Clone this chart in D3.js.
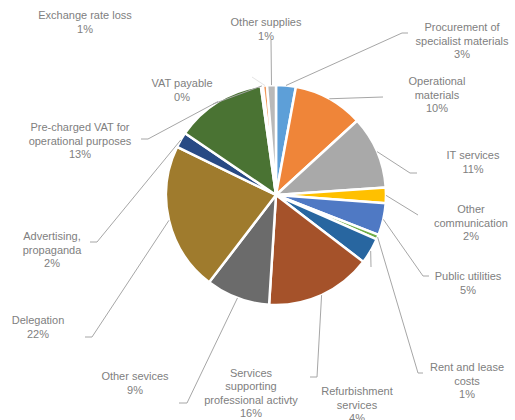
<!DOCTYPE html>
<html>
<head>
<meta charset="utf-8">
<script src="https://cdn.jsdelivr.net/npm/d3@7"></script>
<style>
	body { margin: 0; background: #fff; }
	text { font-family: "Liberation Sans", Arial, sans-serif; font-size: 11px; fill: #808080; }
</style>
</head>
<body>
<script>

// Cost categories, clockwise from 12 o'clock
var categories = [
	"Procurement of\nspecialist materials",
	"Operational\nmaterials",
	"IT services",
	"Other\ncommunication",
	"Public utilities",
	"Rent and lease\ncosts",
	"Refurbishment\nservices",
	"Services\nsupporting\nprofessional activty",
	"Other sevices",
	"Delegation",
	"Advertising,\npropaganda",
	"Pre-charged VAT  for\noperational purposes",
	"VAT payable",
	"Exchange rate loss",
	"Other supplies"
]

// Share of total (percent)
var values = [2.9, 10.3, 10.7, 2.3, 4.7, 0.7, 3.8, 15.6, 9.4, 21.8, 2.3, 13.3, 0.3, 0.6, 1.3]

// Office theme slice colours (as they appear in the picture)
var colors = ["#5d9fd8", "#ef8539", "#a9a9a9", "#ffc000", "#4f79c4", "#70ad47", "#2866a0",
	"#a5522a", "#6b6b6b", "#9f7b2d", "#284a84", "#4a7333", "#c5dcf0", "#f1975a", "#b9b9b9"]

// Label placement (centre of text block) and leader line bends
var labelPos = [
	[462, 41], [437, 95], [473, 162], [471, 223], [468, 283], [467, 381], [357, 405],
	[251, 393], [135, 383], [38, 327], [52, 250], [80, 141], [182, 90], [85, 22], [266, 29]
]
var leaderPts = [
	[[402, 33], [408, 33]],
	[[383, 97]],
	[[410, 173], [417, 173]],
	[[418, 215]],
	[[423, 276], [429, 276]],
	[[418, 373], [423, 373]],
	[[371, 267]],
	[[317, 377], [310, 377]],
	[[187, 403], [179, 403]],
	[[92, 337], [85, 337]],
	[[97, 242], [90, 242]],
	[[148, 139], [141, 139]],
	[[213, 104]],
	[[252, 77]],
	[[271, 40]]
]

var width = 515, height = 420
var cx = 276, cy = 195, radius = 110
var lineH = 13.4

var svg = d3.select("body").append("svg")
	.attr("width", width)
	.attr("height", height)

var total = d3.sum(values)
var rows = values.map((v, i) => ({name: categories[i], value: v, i: i}))

var pie = d3.pie().sort(null).value(d => d.value)
var arcs = pie(rows)

var arc = d3.arc().innerRadius(0).outerRadius(radius)
var edge = d3.arc().innerRadius(radius).outerRadius(radius)

var g = svg.append("g")
	.attr("transform", "translate(" + cx + "," + cy + ")")

// slices
g.selectAll("path.slice")
	.data(arcs)
	.enter().append("path")
	.attr("class", "slice")
	.attr("d", arc)
	.attr("fill", d => colors[d.data.i])
	.attr("stroke", "#fff")
	.attr("stroke-width", 2.5)
	.attr("stroke-linejoin", "round")

// leader lines from slice edge to label
var line = d3.line()
svg.selectAll("path.leader")
	.data(arcs)
	.enter().append("path")
	.attr("class", "leader")
	.attr("d", function(d) {
		var c = edge.centroid(d)
		var pts = [[cx + c[0], cy + c[1]]].concat(leaderPts[d.data.i])
		return line(pts)
	})
	.attr("fill", "none")
	.attr("stroke", d => d.data.i == 13 ? "#e4e4e4" : "#a6a6a6")
	.attr("stroke-width", 1)

// labels: name lines + percentage
var labels = svg.selectAll("text.label")
	.data(arcs)
	.enter().append("text")
	.attr("class", "label")
	.attr("text-anchor", "middle")

labels.each(function(d) {
	var lines = d.data.name.split("\n")
	lines.push(Math.round(d.data.value / total * 100) + "%")
	var p = labelPos[d.data.i]
	var top = p[1] - (lines.length - 1) * lineH / 2
	var t = d3.select(this)
	lines.forEach(function(s, k) {
		t.append("tspan")
			.attr("x", p[0])
			.attr("y", top + k * lineH)
			.attr("dy", "0.35em")
			.text(s)
	})
})

</script>
</body>
</html>
